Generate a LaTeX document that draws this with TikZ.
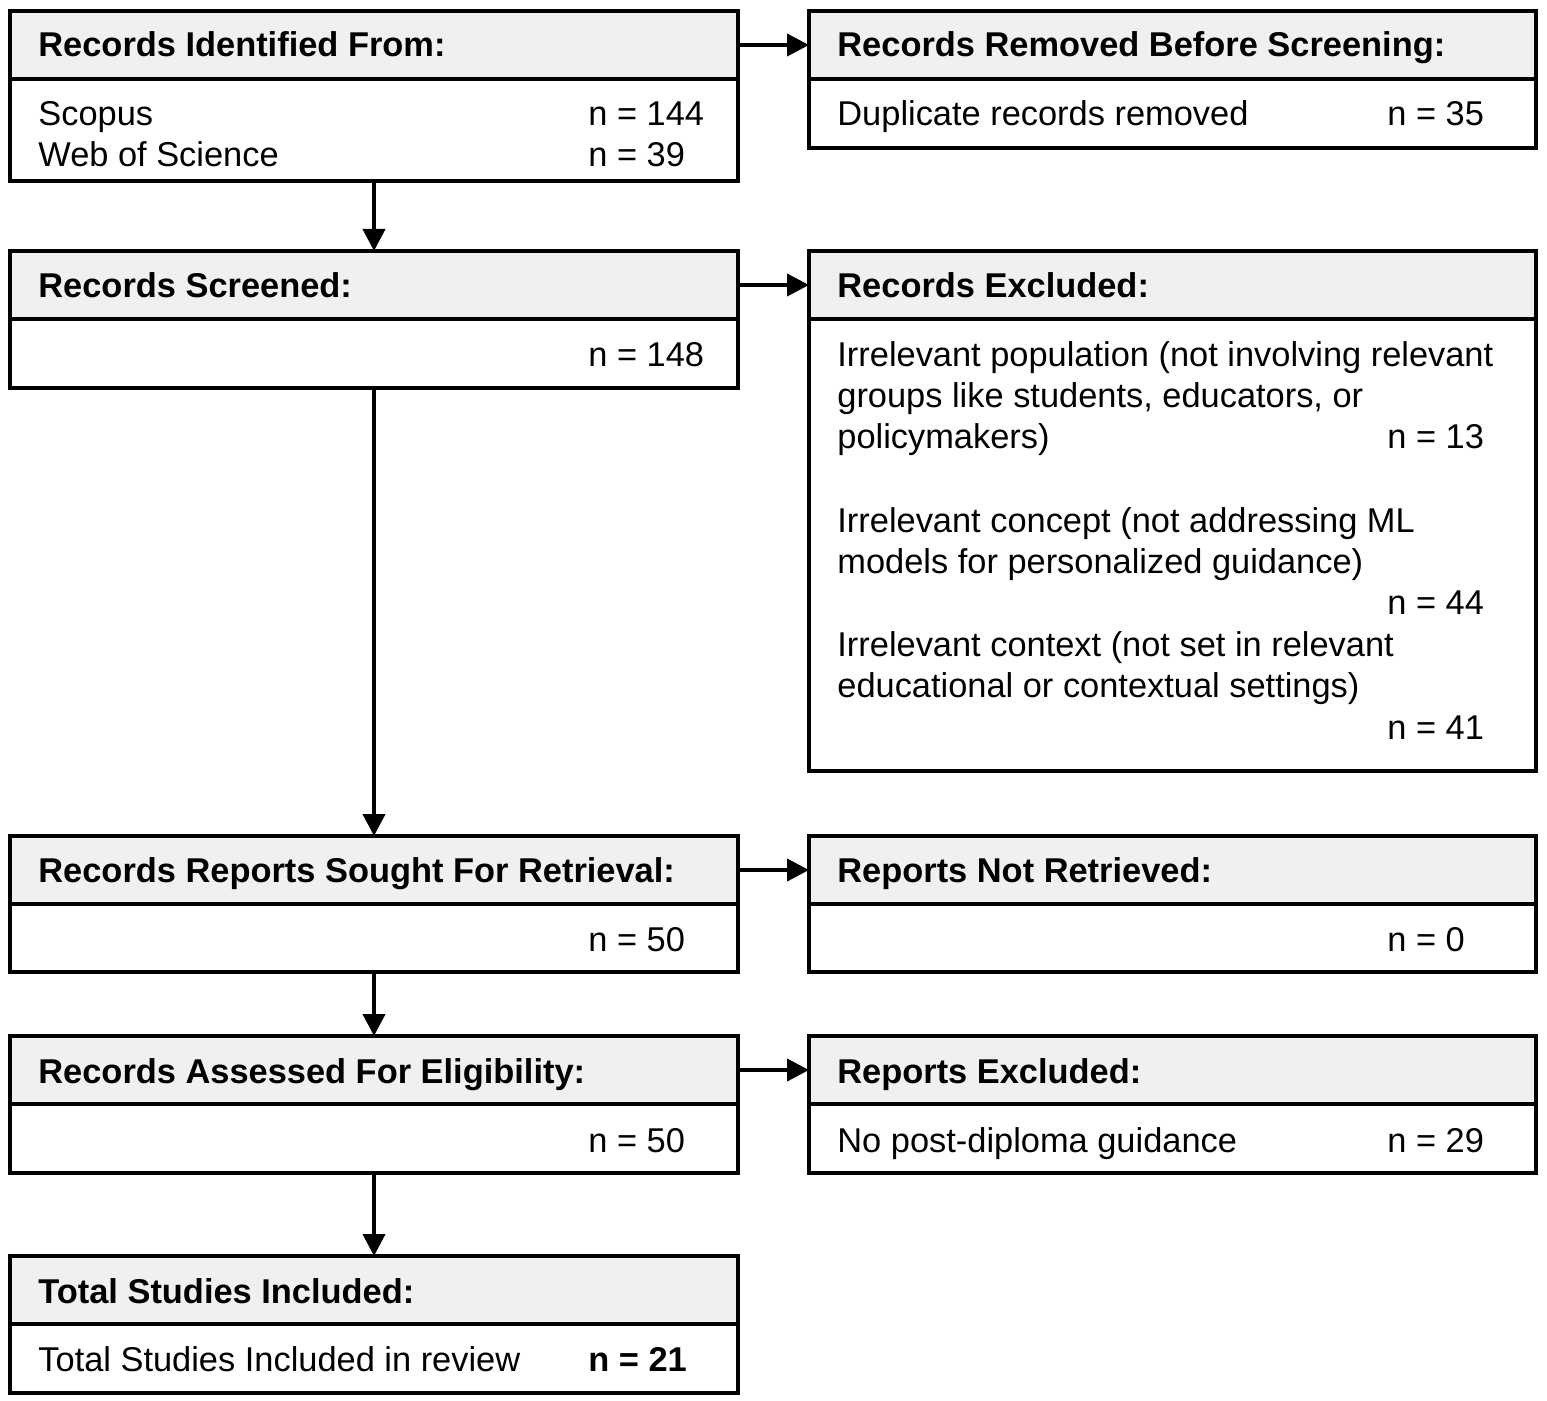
\documentclass[tikz,border=0pt]{standalone}
\usepackage{fontspec}
\setmainfont{Liberation Sans}
\usetikzlibrary{arrows.meta}
\definecolor{hdrgray}{HTML}{F0F0F0}
\tikzset{
  boxpart/.style={draw=black, line width=2pt, anchor=north west, inner sep=0pt, outer sep=0pt},
  hdr/.style={boxpart, fill=hdrgray, minimum height=34pt},
  body/.style={boxpart, fill=white},
  lw/.style={minimum width=364pt},
  rw/.style={minimum width=363.5pt},
  htxt/.style={anchor=base west, inner sep=0pt, font=\fontsize{17.2}{20}\selectfont\bfseries},
  btxt/.style={anchor=base west, inner sep=0pt, font=\fontsize{17.2}{20}\selectfont},
  arr/.style={line width=2pt, -{Triangle[length=11pt,width=11pt]}}
}
\begin{document}
\begin{tikzpicture}[x=0.5pt,y=-0.5pt]
\useasboundingbox (0,0) rectangle (1547,1401);
% Box 1
\node[hdr,lw] (h1) at (10,11) {};
\node[body,lw,minimum height=51pt] (b1) at (10,79) {};
\node[htxt] (h1t) at (38,57) {Records Identified From:};
\node[btxt] (b1a) at (38,126) {Scopus};
\node[btxt] (b1b) at (38,167) {Web of Science};
\node[btxt] (b1an) at (588,126) {n = 144};
\node[btxt] (b1bn) at (588,167) {n = 39};
% Right box 1
\node[hdr,rw] (rh1) at (809,11) {};
\node[body,rw,minimum height=34.5pt] (rb1) at (809,79) {};
\node[htxt] (rh1t) at (837,57) {Records Removed Before Screening:};
\node[btxt] (rb1a) at (837,126) {Duplicate records removed};
\node[btxt] (rb1n) at (1387,126) {n = 35};
% Box 2
\node[hdr,lw] (h2) at (10,251) {};
\node[body,lw,minimum height=34.5pt] (b2) at (10,319) {};
\node[htxt] (h2t) at (38,298) {Records Screened:};
\node[btxt] (b2n) at (588,367) {n = 148};
% Right box 2
\node[hdr,rw] (rh2) at (809,251) {};
\node[body,rw,minimum height=226pt] (rb2) at (809,319) {};
\node[htxt] (rh2t) at (837,298) {Records Excluded:};
\node[btxt] (r2l1) at (837,367) {Irrelevant population (not involving relevant};
\node[btxt] (r2l2) at (837,408) {groups like students, educators, or};
\node[btxt] (r2l3) at (837,449) {policymakers)};
\node[btxt] (r2n1) at (1387,449) {n = 13};
\node[btxt] (r2l4) at (837,532) {Irrelevant concept (not addressing ML};
\node[btxt] (r2l5) at (837,573) {models for personalized guidance)};
\node[btxt] (r2n2) at (1387,614) {n = 44};
\node[btxt] (r2l6) at (837,656) {Irrelevant context (not set in relevant};
\node[btxt] (r2l7) at (837,697) {educational or contextual settings)};
\node[btxt] (r2n3) at (1387,739) {n = 41};
% Box 3
\node[hdr,lw] (h3) at (10,836) {};
\node[body,lw,minimum height=34pt] (b3) at (10,904) {};
\node[htxt] (h3t) at (38,882) {Records Reports Sought For Retrieval:};
\node[btxt] (b3n) at (588,951) {n = 50};
% Right box 3
\node[hdr,rw] (rh3) at (809,836) {};
\node[body,rw,minimum height=34pt] (rb3) at (809,904) {};
\node[htxt] (rh3t) at (837,882) {Reports Not Retrieved:};
\node[btxt] (rb3n) at (1387,951) {n = 0};
% Box 4
\node[hdr,lw] (h4) at (10,1036) {};
\node[body,lw,minimum height=34.5pt] (b4) at (10,1104) {};
\node[htxt] (h4t) at (38,1083) {Records Assessed For Eligibility:};
\node[btxt] (b4n) at (588,1152) {n = 50};
% Right box 4
\node[hdr,rw] (rh4) at (809,1036) {};
\node[body,rw,minimum height=34.5pt] (rb4) at (809,1104) {};
\node[htxt] (rh4t) at (837,1083) {Reports Excluded:};
\node[btxt] (rb4a) at (837,1152) {No post-diploma guidance};
\node[btxt] (rb4n) at (1387,1152) {n = 29};
% Box 5
\node[hdr,lw] (h5) at (10,1256) {};
\node[body,lw,minimum height=34.5pt] (b5) at (10,1324) {};
\node[htxt] (h5t) at (38,1303) {Total Studies Included:};
\node[btxt] (b5a) at (38,1371) {Total Studies Included in review};
\node[btxt,font=\fontsize{17.2}{20}\selectfont\bfseries] (b5n) at (588,1371) {n = 21};
% Arrows
\draw[arr] (b1.south) -- (h2.north);
\draw[arr] (b2.south) -- (h3.north);
\draw[arr] (b3.south) -- (h4.north);
\draw[arr] (b4.south) -- (h5.north);
\draw[arr] (h1.east) -- (rh1.west);
\draw[arr] (h2.east) -- (rh2.west);
\draw[arr] (h3.east) -- (rh3.west);
\draw[arr] (h4.east) -- (rh4.west);
\end{tikzpicture}
\end{document}
